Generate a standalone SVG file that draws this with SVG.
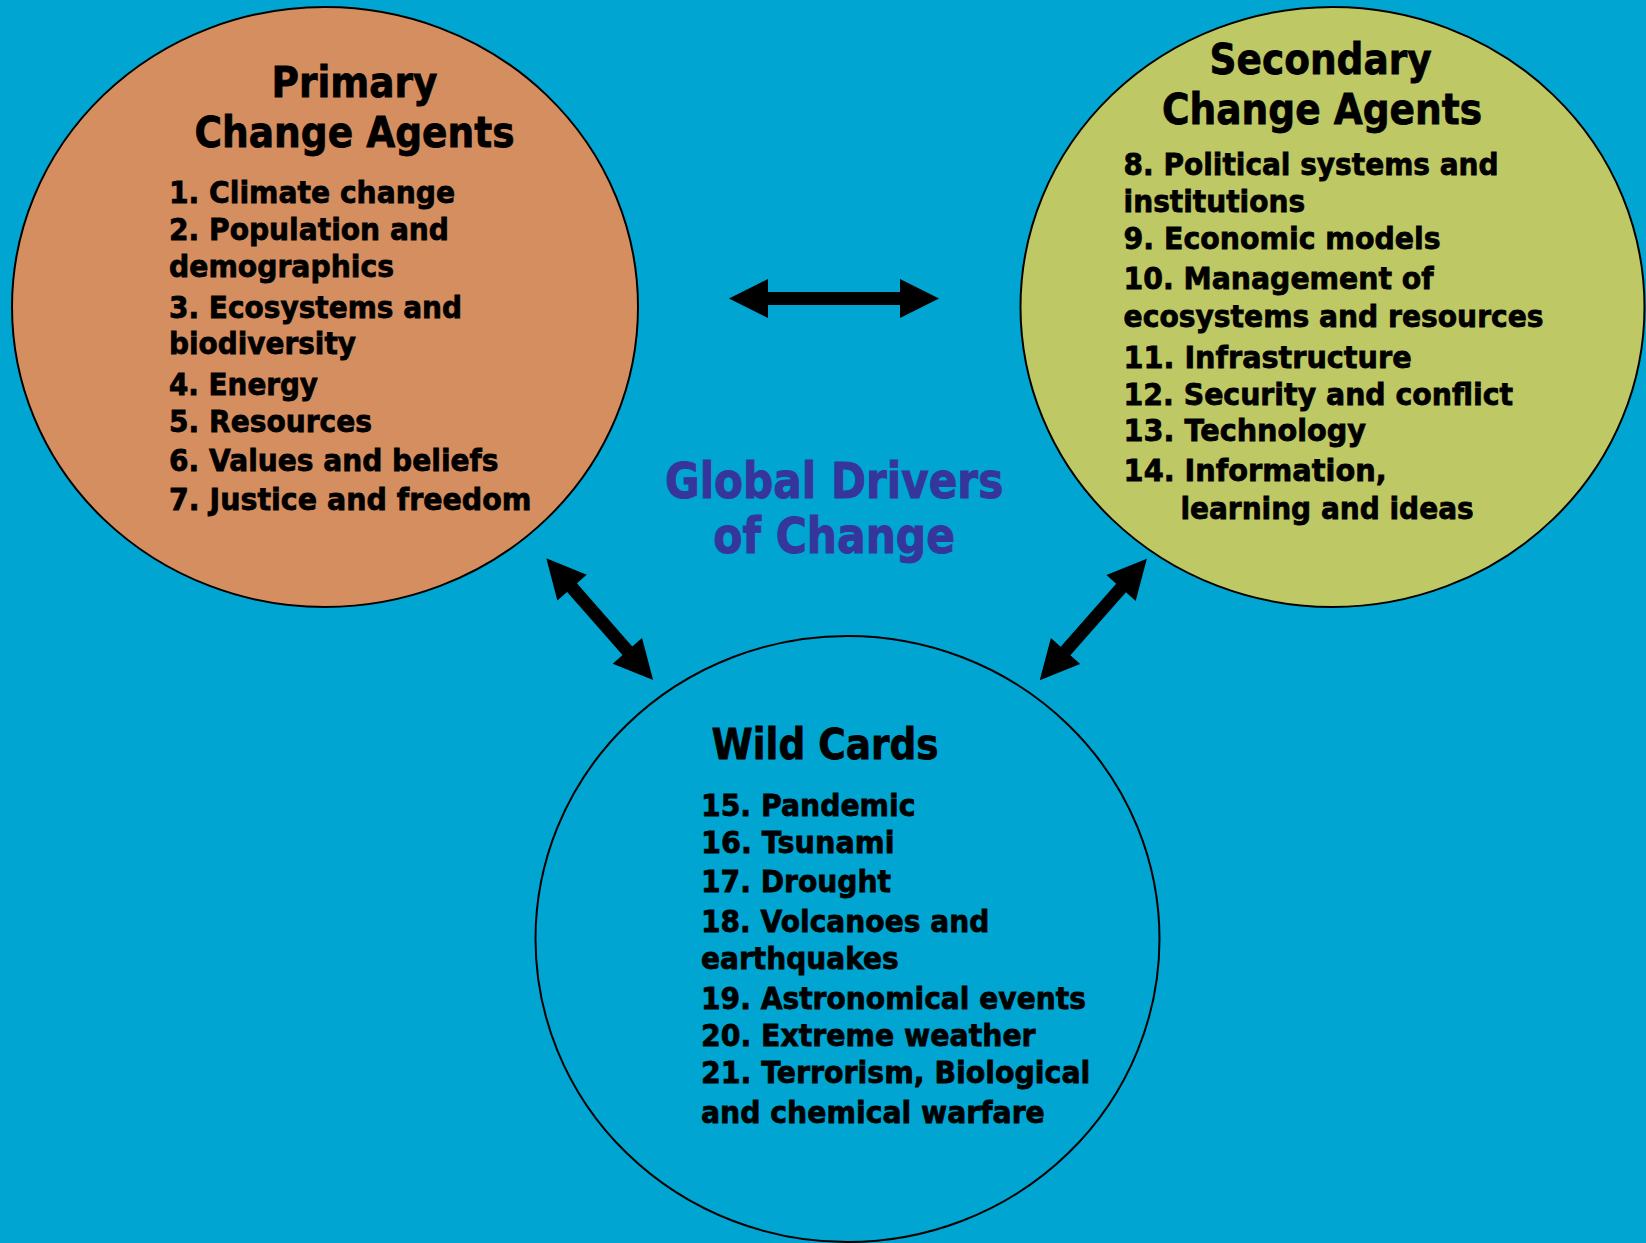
<svg xmlns="http://www.w3.org/2000/svg" width="1646" height="1243" viewBox="0 0 1646 1243">
<style>
.bg{fill:#00a5d1}
.node{stroke:#000;stroke-width:2}
.t{font-family:"DejaVu Sans",Verdana,sans-serif;font-weight:bold;fill:#000;stroke:#000;stroke-width:0.8}
.h{font-size:43px}
.i{font-size:31px}
.c{font-family:"DejaVu Sans",Verdana,sans-serif;font-weight:bold;font-size:50px;fill:#35359c;stroke:#35359c;stroke-width:1}
.arrow{fill:#000}
</style>
<rect class="bg" x="0" y="0" width="1646" height="1243"/>
<g id="primary">
<ellipse class="node" cx="325" cy="307" rx="313" ry="300" fill="#d58e5f"/>
<text class="t h" x="271.5" y="97" textLength="166" lengthAdjust="spacingAndGlyphs">Primary</text>
<text class="t h" x="194.5" y="146.5" textLength="320" lengthAdjust="spacingAndGlyphs">Change Agents</text>
<text class="t i" x="169" y="203.4" textLength="286" lengthAdjust="spacingAndGlyphs">1. Climate change</text>
<text class="t i" x="169" y="240.4" textLength="280" lengthAdjust="spacingAndGlyphs">2. Population and</text>
<text class="t i" x="169" y="276.8" textLength="225" lengthAdjust="spacingAndGlyphs">demographics</text>
<text class="t i" x="169" y="318.3" textLength="293" lengthAdjust="spacingAndGlyphs">3. Ecosystems and</text>
<text class="t i" x="169" y="353.9" textLength="187" lengthAdjust="spacingAndGlyphs">biodiversity</text>
<text class="t i" x="169" y="395.4" textLength="149" lengthAdjust="spacingAndGlyphs">4. Energy</text>
<text class="t i" x="169" y="432.2" textLength="203" lengthAdjust="spacingAndGlyphs">5. Resources</text>
<text class="t i" x="169" y="470.5" textLength="329.5" lengthAdjust="spacingAndGlyphs">6. Values and beliefs</text>
<text class="t i" x="169" y="510" textLength="362.5" lengthAdjust="spacingAndGlyphs">7. Justice and freedom</text>
</g>
<g id="secondary">
<ellipse class="node" cx="1332.5" cy="307" rx="312" ry="300" fill="#bec865"/>
<text class="t h" x="1209.6" y="73.5" textLength="222" lengthAdjust="spacingAndGlyphs">Secondary</text>
<text class="t h" x="1162" y="123.5" textLength="320" lengthAdjust="spacingAndGlyphs">Change Agents</text>
<text class="t i" x="1123.6" y="175.3" textLength="375" lengthAdjust="spacingAndGlyphs">8. Political systems and</text>
<text class="t i" x="1123.6" y="211.5" textLength="181.5" lengthAdjust="spacingAndGlyphs">institutions</text>
<text class="t i" x="1123.6" y="249.2" textLength="317" lengthAdjust="spacingAndGlyphs">9. Economic models</text>
<text class="t i" x="1123.6" y="288.8" textLength="310" lengthAdjust="spacingAndGlyphs">10. Management of</text>
<text class="t i" x="1123.6" y="326.5" textLength="420" lengthAdjust="spacingAndGlyphs">ecosystems and resources</text>
<text class="t i" x="1123.6" y="367.5" textLength="288" lengthAdjust="spacingAndGlyphs">11. Infrastructure</text>
<text class="t i" x="1123.6" y="405" textLength="389.5" lengthAdjust="spacingAndGlyphs">12. Security and conflict</text>
<text class="t i" x="1123.6" y="441" textLength="242.5" lengthAdjust="spacingAndGlyphs">13. Technology</text>
<text class="t i" x="1123.6" y="480.7" textLength="263" lengthAdjust="spacingAndGlyphs">14. Information,</text>
<text class="t i" x="1180.4" y="518.5" textLength="293.3" lengthAdjust="spacingAndGlyphs">learning and ideas</text>
</g>
<g id="wildcards">
<ellipse class="node" cx="847.5" cy="939" rx="312" ry="303" fill="#00a5d1"/>
<text class="t h" x="711.5" y="759" textLength="227" lengthAdjust="spacingAndGlyphs">Wild Cards</text>
<text class="t i" x="701" y="816" textLength="214.5" lengthAdjust="spacingAndGlyphs">15. Pandemic</text>
<text class="t i" x="701" y="853" textLength="193.5" lengthAdjust="spacingAndGlyphs">16. Tsunami</text>
<text class="t i" x="701" y="891.5" textLength="190" lengthAdjust="spacingAndGlyphs">17. Drought</text>
<text class="t i" x="701" y="932" textLength="288.3" lengthAdjust="spacingAndGlyphs">18. Volcanoes and</text>
<text class="t i" x="701" y="968.5" textLength="197.8" lengthAdjust="spacingAndGlyphs">earthquakes</text>
<text class="t i" x="701" y="1008.5" textLength="385" lengthAdjust="spacingAndGlyphs">19. Astronomical events</text>
<text class="t i" x="701" y="1045.5" textLength="334.6" lengthAdjust="spacingAndGlyphs">20. Extreme weather</text>
<text class="t i" x="701" y="1083" textLength="389.3" lengthAdjust="spacingAndGlyphs">21. Terrorism, Biological</text>
<text class="t i" x="701" y="1123" textLength="343.8" lengthAdjust="spacingAndGlyphs">and chemical warfare</text>
</g>
<g id="title">
<text class="c" x="665" y="498.3" textLength="338.3" lengthAdjust="spacingAndGlyphs">Global Drivers</text>
<text class="c" x="713.3" y="553.3" textLength="241.7" lengthAdjust="spacingAndGlyphs">of Change</text>
</g>
<g id="connectors">
<polygon class="arrow" points="729,298.5 768,279 768,292 900,292 900,279 939,298.5 900,318 900,305 768,305 768,318"/>
<polygon class="arrow" transform="translate(599.7 619.2) rotate(48.75)" points="-81,0 -42,-19.5 -42,-6.5 42,-6.5 42,-19.5 81,0 42,19.5 42,6.5 -42,6.5 -42,19.5"/>
<polygon class="arrow" transform="translate(1093.3 619.5) rotate(-48.6)" points="-81,0 -42,-19.5 -42,-6.5 42,-6.5 42,-19.5 81,0 42,19.5 42,6.5 -42,6.5 -42,19.5"/>
</g>
</svg>
